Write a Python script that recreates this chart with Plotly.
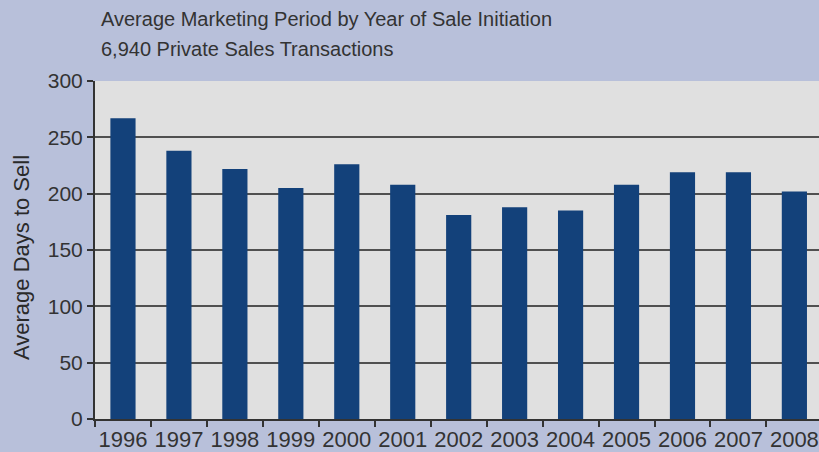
import plotly.graph_objects as go

years = ["1996", "1997", "1998", "1999", "2000", "2001", "2002",
         "2003", "2004", "2005", "2006", "2007", "2008"]
avg_days = [267, 238, 222, 205, 226, 208, 181, 188, 185, 208, 219, 219, 202]

TITLE = "Average Marketing Period by Year of Sale Initiation"
SUBTITLE = "6,940 Private Sales Transactions"
Y_TITLE = "Average Days to Sell"

BAR_COLOR = "#13417a"
PAPER_BG = "#b8c0da"
PLOT_BG = "#e0e0e0"
TEXT_COLOR = "#333333"
FONT = "Liberation Sans, Arial, sans-serif"

fig = go.Figure()
fig.add_trace(
    go.Bar(x=years, y=avg_days, marker=dict(color=BAR_COLOR, line=dict(width=0)), width=0.45)
)

fig.update_layout(
    width=819, height=452,
    margin=dict(l=95, r=0, t=81, b=33),
    paper_bgcolor=PAPER_BG, plot_bgcolor=PLOT_BG,
    font=dict(family=FONT, color=TEXT_COLOR, size=20),
    showlegend=False,
)
fig.update_xaxes(
    type="category", range=[-0.5, 12.44], automargin=False, tickangle=0,
    showline=True, linecolor="#333333", linewidth=2,
    ticks="outside", tickson="boundaries", ticklen=6, tickcolor="#333333", tickwidth=1.5,
    showgrid=False, tickfont=dict(size=22, color=TEXT_COLOR),
)
fig.update_yaxes(
    range=[0, 300], dtick=50, automargin=False,
    showline=True, linecolor="#333333", linewidth=2,
    ticks="outside", ticklen=6, tickcolor="#333333", tickwidth=1.5,
    showgrid=True, gridcolor="#505050", gridwidth=1.5,
    zeroline=False, tickfont=dict(size=21, color=TEXT_COLOR),
)

fig.add_annotation(text=TITLE, xref="paper", yref="paper", x=(99 - 95) / 724, y=1 + (81 - 19) / 338,
                   xanchor="left", yanchor="middle", showarrow=False, font=dict(size=20, color=TEXT_COLOR))
fig.add_annotation(text=SUBTITLE, xref="paper", yref="paper", x=(99 - 95) / 724, y=1 + (81 - 49) / 338,
                   xanchor="left", yanchor="middle", showarrow=False, font=dict(size=20, color=TEXT_COLOR))
fig.add_annotation(text=Y_TITLE, xref="paper", yref="paper", x=-(95 - 21) / 724, y=(419 - 258) / 338,
                   xanchor="center", yanchor="middle", textangle=-90, showarrow=False,
                   font=dict(size=22, color="#2a2a2a"))

fig.write_html("out.html", config={"displayModeBar": False},
               post_script="document.body.style.margin='0';")
